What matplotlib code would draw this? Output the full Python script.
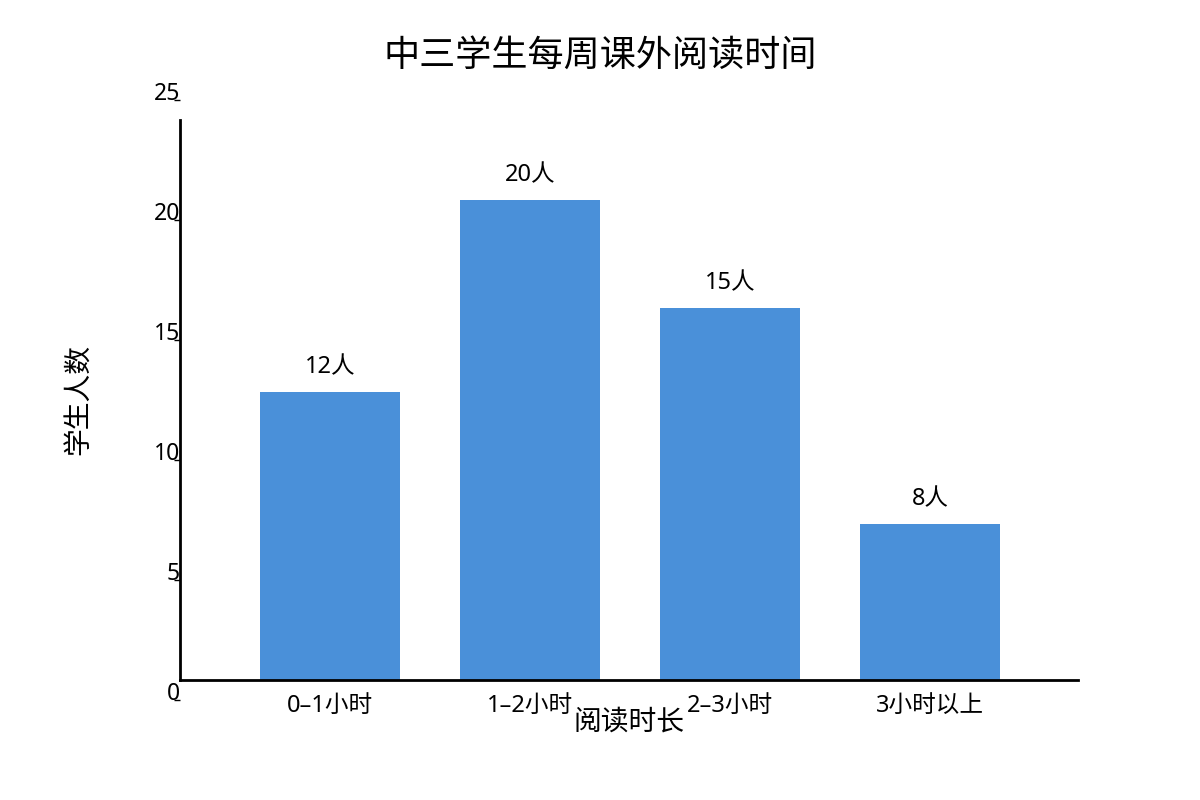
import matplotlib
matplotlib.use('Agg')
import matplotlib.pyplot as plt

plt.rcParams['font.family'] = ['Noto Sans', 'Noto Sans CJK SC', 'DejaVu Sans']

# Data
categories = ['0–1小时', '1–2小时', '2–3小时', '3小时以上']
bar_heights = [12, 20, 15.5, 6.5]        # bar heights as drawn in the picture
bar_labels = ['12人', '20人', '15人', '8人']
ytick_values = [0, 5, 10, 15, 20, 25]
ytick_shift = 0.83                       # tick labels sit a bit below their values

bar_color = '#4A90D9'

fig = plt.figure(figsize=(12, 8), dpi=100)
ax = fig.add_axes([0.15, 0.12, 0.7483, 0.765])

x = range(len(categories))
bars = ax.bar(x, bar_heights, width=0.7, color=bar_color, zorder=2)

for rect, lab in zip(bars, bar_labels):
    ax.annotate(lab, (rect.get_x() + rect.get_width() / 2, rect.get_height()),
                xytext=(0, 9), textcoords='offset points',
                ha='center', va='bottom', fontsize=17)

ax.set_xlim(-0.75, 3.74)
ax.set_ylim(-1, 24.5)

ax.set_xticks(list(x))
ax.set_xticklabels(categories)
ax.tick_params(axis='x', length=0, pad=10, labelsize=17)

ax.set_yticks([v - ytick_shift for v in ytick_values])
ax.set_yticklabels([str(v) for v in ytick_values])
ax.tick_params(axis='y', length=4, width=1, pad=-4, direction='out', labelsize=16.5)
for t in ax.get_yticklabels():
    t.set_va('baseline')

for s in ['top', 'right']:
    ax.spines[s].set_visible(False)
ax.spines['left'].set_bounds(0, 23.33)
ax.spines['bottom'].set_position(('data', 0))
for s in ['left', 'bottom']:
    ax.spines[s].set_linewidth(2)
    ax.spines[s].set_color('black')

ax.set_xlabel('阅读时长', fontsize=20)
ax.xaxis.set_label_coords(0.5, -0.031)
ax.xaxis.label.set_va('center')

ax.set_ylabel('学生人数', fontsize=20)
ax.yaxis.set_label_coords(-0.111, 0.497)
ax.yaxis.label.set_va('center')

fig.suptitle('中三学生每周课外阅读时间', x=0.5, y=0.929, va='center', fontsize=26)

plt.savefig('out.png', dpi=100)
